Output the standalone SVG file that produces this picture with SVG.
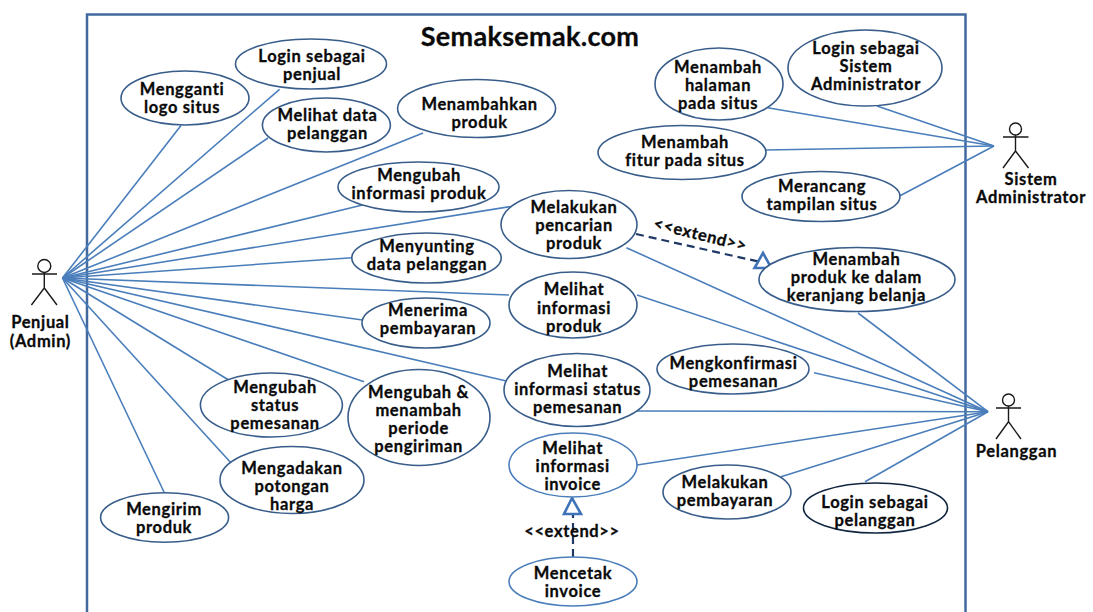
<svg xmlns="http://www.w3.org/2000/svg" width="1093" height="612" viewBox="0 0 1093 612">
<style>
text{font-family:Lato,"Liberation Sans",sans-serif;font-weight:700;font-size:16.5px;letter-spacing:.65px;fill:#0a0a0a;stroke:#0a0a0a;stroke-width:.3px;text-anchor:middle}
.title{font-size:27px;letter-spacing:.3px}
.uc{fill:#fff;stroke:#385d8a;stroke-width:1.6}
.lt{stroke:#4a7ebb}
.dk{stroke:#10253f}
.frame{fill:none;stroke:#41699f;stroke-width:2.5}
.conn line{stroke:#4a7ebb;stroke-width:1.6}
.conn .dash{stroke:#1f3864;stroke-width:2.2;stroke-dasharray:8 5}
.tri{fill:#fff;stroke:#3f73b8;stroke-width:2.6}
.actor{fill:none;stroke:#1a1a1a;stroke-width:1.4}
</style>
<path class="frame" d="M87 612V14.500H965.500V612"/>
<text class="title" x="530" y="46">Semaksemak.com</text>
<g id="connectors" class="conn">
<line x1="62.500" y1="278" x2="181" y2="125.500"/>
<line x1="62.500" y1="278" x2="279.600" y2="89.300"/>
<line x1="62.500" y1="278" x2="268" y2="138"/>
<line x1="62.500" y1="278" x2="423" y2="133"/>
<line x1="62.500" y1="278" x2="362.500" y2="205"/>
<line x1="62.500" y1="278" x2="514" y2="206"/>
<line x1="62.500" y1="278" x2="352" y2="257.700"/>
<line x1="62.500" y1="278" x2="509" y2="295"/>
<line x1="62.500" y1="278" x2="362.500" y2="320"/>
<line x1="62.500" y1="278" x2="506.400" y2="381"/>
<line x1="62.500" y1="278" x2="364" y2="381.700"/>
<line x1="62.500" y1="278" x2="228.600" y2="380"/>
<line x1="62.500" y1="278" x2="232" y2="464"/>
<line x1="62.500" y1="278" x2="164" y2="492"/>
<line x1="994" y1="146" x2="877" y2="106"/>
<line x1="994" y1="146" x2="767.500" y2="107.700"/>
<line x1="994" y1="146" x2="766" y2="150"/>
<line x1="994" y1="146" x2="900" y2="195.700"/>
<line x1="988" y1="411.700" x2="626.400" y2="247.700"/>
<line x1="988" y1="411.700" x2="637" y2="295"/>
<line x1="988" y1="411.700" x2="858" y2="313"/>
<line x1="988" y1="411.700" x2="814" y2="372.700"/>
<line x1="988" y1="411.700" x2="636" y2="411"/>
<line x1="988" y1="411.700" x2="637" y2="465"/>
<line x1="988" y1="411.700" x2="781" y2="476.700"/>
<line x1="988" y1="411.700" x2="865" y2="481.700"/>
<line class="dash" x1="636" y1="234" x2="760.500" y2="262"/>
<polygon class="tri" points="763,253 754.500,268 771.400,268"/>
<line class="dash" x1="573" y1="557" x2="573" y2="515"/>
<polygon class="tri" points="572,498 564,514 581,514"/>
</g>
<g id="uc-login-penjual"><ellipse class="uc" cx="311" cy="64" rx="75.500" ry="25"/><text x="312" y="62">Login sebagai</text><text x="312" y="80">penjual</text></g>
<g id="uc-ganti-logo"><ellipse class="uc" cx="185" cy="98" rx="64" ry="27"/><text x="182" y="95">Mengganti</text><text x="182" y="113">logo situs</text></g>
<g id="uc-lihat-pelanggan"><ellipse class="uc" cx="326.400" cy="125" rx="64" ry="27"/><text x="327.500" y="121">Melihat data</text><text x="327.500" y="139">pelanggan</text></g>
<g id="uc-tambah-produk"><ellipse class="uc" cx="476.600" cy="108.500" rx="79" ry="29"/><text x="479.600" y="110">Menambahkan</text><text x="479.600" y="128">produk</text></g>
<g id="uc-ubah-info"><ellipse class="uc" cx="418.500" cy="187" rx="80.500" ry="25"/><text x="419" y="180.500">Mengubah</text><text x="419" y="198.500">informasi produk</text></g>
<g id="uc-pencarian"><ellipse class="uc" cx="569" cy="224.500" rx="68" ry="34"/><text x="574" y="213">Melakukan</text><text x="574" y="231">pencarian</text><text x="574" y="249">produk</text></g>
<g id="uc-sunting"><ellipse class="uc" cx="426.500" cy="258" rx="74.700" ry="25"/><text x="427" y="252">Menyunting</text><text x="427" y="270">data pelanggan</text></g>
<g id="uc-info-produk"><ellipse class="uc" cx="573" cy="305" rx="64" ry="33"/><text x="574" y="295">Melihat</text><text x="574" y="313.500">informasi</text><text x="574" y="332">produk</text></g>
<g id="uc-terima"><ellipse class="uc" cx="426" cy="323" rx="64" ry="25"/><text x="428" y="316">Menerima</text><text x="428" y="334">pembayaran</text></g>
<g id="uc-status"><ellipse class="uc" cx="271.400" cy="405" rx="71" ry="32"/><text x="275" y="393">Mengubah</text><text x="275" y="411">status</text><text x="275" y="429">pemesanan</text></g>
<g id="uc-periode"><ellipse class="uc" cx="419" cy="417.500" rx="71" ry="48"/><text x="418.600" y="398">Mengubah &amp;</text><text x="418.600" y="416">menambah</text><text x="418.600" y="434">periode</text><text x="418.600" y="452">pengiriman</text></g>
<g id="uc-potongan"><ellipse class="uc" cx="292" cy="480" rx="72" ry="33.500"/><text x="292" y="473.500">Mengadakan</text><text x="292" y="491.500">potongan</text><text x="292" y="509.500">harga</text></g>
<g id="uc-kirim"><ellipse class="uc" cx="164.600" cy="517.500" rx="64" ry="24.700"/><text x="164" y="515">Mengirim</text><text x="164" y="533">produk</text></g>
<g id="uc-info-status"><ellipse class="uc" cx="577" cy="390" rx="73" ry="36.500"/><text x="577.700" y="376.500">Melihat</text><text x="577.700" y="394.500">informasi status</text><text x="577.700" y="412.500">pemesanan</text></g>
<g id="uc-invoice"><ellipse class="uc lt" cx="573" cy="465" rx="64" ry="32"/><text x="572.700" y="454">Melihat</text><text x="572.700" y="472">informasi</text><text x="572.700" y="490">invoice</text></g>
<g id="uc-cetak"><ellipse class="uc lt" cx="573" cy="581.500" rx="64" ry="24.500"/><text x="573" y="579">Mencetak</text><text x="573" y="597">invoice</text></g>
<g id="uc-konfirmasi"><ellipse class="uc" cx="733" cy="369" rx="76" ry="25"/><text x="733.500" y="369">Mengkonfirmasi</text><text x="733.500" y="387">pemesanan</text></g>
<g id="uc-bayar"><ellipse class="uc" cx="727" cy="492" rx="64" ry="27"/><text x="725" y="488">Melakukan</text><text x="725" y="506">pembayaran</text></g>
<g id="uc-login-pelanggan"><ellipse class="uc dk" cx="875.500" cy="508" rx="72" ry="25"/><text x="875" y="508">Login sebagai</text><text x="875" y="526">pelanggan</text></g>
<g id="uc-halaman"><ellipse class="uc" cx="719" cy="84" rx="64" ry="36"/><text x="718" y="73">Menambah</text><text x="718" y="91">halaman</text><text x="718" y="109">pada situs</text></g>
<g id="uc-login-sistem"><ellipse class="uc" cx="865" cy="68" rx="77" ry="38"/><text x="866" y="54">Login sebagai</text><text x="866" y="72">Sistem</text><text x="866" y="90">Administrator</text></g>
<g id="uc-fitur"><ellipse class="uc" cx="682" cy="152.500" rx="84" ry="27"/><text x="685" y="148">Menambah</text><text x="685" y="166">fitur pada situs</text></g>
<g id="uc-tampilan"><ellipse class="uc" cx="821" cy="196.500" rx="79" ry="25"/><text x="822" y="192">Merancang</text><text x="822" y="210">tampilan situs</text></g>
<g id="uc-keranjang"><ellipse class="uc" cx="857" cy="279.500" rx="98" ry="32"/><text x="856.400" y="265">Menambah</text><text x="856.400" y="283">produk ke dalam</text><text x="856.400" y="301">keranjang belanja</text></g>
<g id="actor-penjual"><circle class="actor" cx="44.300" cy="266" r="6.500"/><path class="actor" d="M32 274H57M44.300 272.500V288L31.400 305M44.300 288L57 305"/><text x="40.400" y="328">Penjual</text><text x="40.400" y="347">(Admin)</text></g>
<g id="actor-sistem"><circle class="actor" cx="1015.500" cy="129" r="6"/><path class="actor" d="M1003 137H1028.500M1015.500 135V151L1003 168M1015.500 151L1028.500 168"/><text x="1031" y="185">Sistem</text><text x="1031" y="203">Administrator</text></g>
<g id="actor-pelanggan"><circle class="actor" cx="1008.500" cy="400" r="6"/><path class="actor" d="M996 408H1021M1008.500 406V421.700L996 439M1008.500 421.700L1021 439"/><text x="1016.500" y="457">Pelanggan</text></g>
<text transform="translate(699 240) rotate(14)">&lt;&lt;extend&gt;&gt;</text>
<text x="572" y="537">&lt;&lt;extend&gt;&gt;</text>
</svg>
